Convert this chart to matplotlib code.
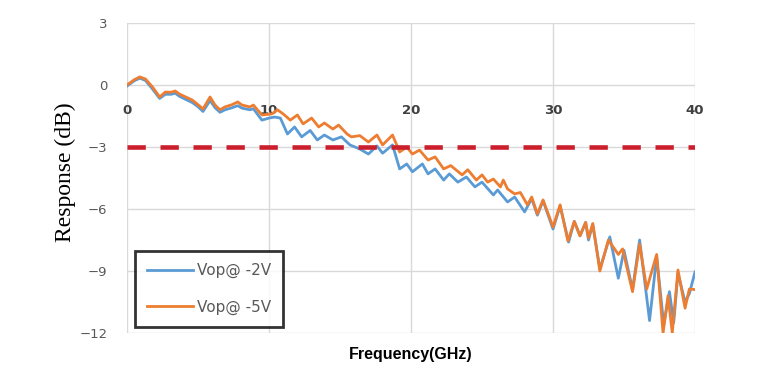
import matplotlib
matplotlib.use("Agg")
import matplotlib.pyplot as plt

freq_5v = [0.0, 0.5, 0.9, 1.3, 1.8, 2.3, 2.7, 3.1, 3.4, 3.7, 4.2, 4.6, 5.0, 5.35, 5.85, 6.2, 6.55, 6.9,
           7.4, 7.8, 8.1, 8.66, 8.9, 9.5, 10.2, 10.6, 11.0, 11.5, 12.0, 12.4, 13.0, 13.5, 13.9, 14.5,
           14.9, 15.5, 15.8, 16.4, 17.0, 17.6, 18.0, 18.7, 19.2, 19.7, 20.1, 20.6, 21.2, 21.7, 22.3,
           22.8, 23.6, 24.0, 24.6, 25.0, 25.4, 25.8, 26.3, 26.5, 26.8, 27.3, 27.7, 28.2, 28.5, 28.9,
           29.3, 30.0, 30.5, 31.05, 31.5, 31.9, 32.3, 32.5, 32.8, 33.3, 33.9, 34.6, 34.9, 35.6, 36.1,
           36.6, 37.3, 37.75, 38.1, 38.4, 38.8, 39.3, 39.6, 40.0]
resp_5v = [0.0, 0.25, 0.39, 0.29, -0.1, -0.58, -0.34, -0.35, -0.29, -0.44, -0.6, -0.73, -0.95, -1.16,
           -0.58, -0.97, -1.2, -1.06, -0.95, -0.82, -0.97, -1.06, -0.97, -1.45, -1.4, -1.2, -1.4, -1.7,
           -1.45, -1.88, -1.6, -2.03, -1.84, -2.13, -1.94, -2.37, -2.51, -2.45, -2.76, -2.42, -2.9,
           -2.42, -3.24, -3.0, -3.34, -3.15, -3.63, -3.48, -4.06, -3.9, -4.35, -4.1, -4.6, -4.35, -4.7,
           -4.55, -4.93, -4.6, -5.03, -5.27, -5.2, -5.8, -5.42, -6.24, -5.56, -6.87, -5.8, -7.55, -6.6,
           -7.3, -6.65, -7.4, -6.7, -9.0, -7.5, -8.2, -7.93, -10.0, -7.7, -9.87, -8.2, -12.0, -10.2,
           -12.0, -8.95, -10.8, -9.87, -9.9]

freq_2v = [0.0, 0.5, 0.9, 1.3, 1.8, 2.3, 2.7, 3.1, 3.4, 3.7, 4.2, 4.6, 5.0, 5.35, 5.85, 6.2, 6.55, 6.9,
           7.4, 7.8, 8.1, 8.66, 8.9, 9.5, 10.0, 10.4, 10.8, 11.3, 11.8, 12.3, 12.9, 13.4, 13.9, 14.5,
           15.1, 15.7, 16.4, 17.0, 17.6, 18.0, 18.7, 19.2, 19.7, 20.1, 20.8, 21.2, 21.7, 22.3, 22.7,
           23.3, 23.9, 24.5, 25.0, 25.8, 26.1, 26.8, 27.3, 28.0, 28.5, 28.9, 29.3, 30.0, 30.5, 31.1,
           31.5, 31.9, 32.3, 32.5, 32.8, 33.3, 34.0, 34.6, 35.0, 35.6, 36.1, 36.8, 37.3, 37.8, 38.2,
           38.5, 38.8, 39.3, 39.6, 40.0]
resp_2v = [-0.05, 0.2, 0.33, 0.22, -0.2, -0.65, -0.45, -0.45, -0.4, -0.55, -0.72, -0.85, -1.05, -1.28,
           -0.75, -1.1, -1.32, -1.2, -1.1, -1.0, -1.12, -1.2, -1.15, -1.7, -1.6, -1.55, -1.6, -2.37,
           -2.03, -2.51, -2.2, -2.66, -2.42, -2.66, -2.51, -2.9, -3.1, -3.34, -2.95, -3.3, -2.9, -4.06,
           -3.82, -4.2, -3.82, -4.3, -4.06, -4.6, -4.3, -4.7, -4.45, -4.93, -4.7, -5.32, -5.08, -5.66,
           -5.42, -6.14, -5.5, -6.3, -5.6, -6.97, -5.85, -7.6, -6.6, -7.3, -6.65, -7.5, -6.75, -8.9,
           -7.35, -9.35, -8.0, -9.9, -7.5, -11.4, -8.3, -11.6, -10.0, -11.5, -9.1, -10.5, -10.1, -9.05]

ref_freq = [0, 40]
ref_level = [-3, -3]

x_ticks = [0, 10, 20, 30, 40]
y_ticks = [3, 0, -3, -6, -9, -12]

fig = plt.figure(figsize=(7.71, 3.81), dpi=100)
ax = fig.add_axes([127 / 771, 48 / 381, 568 / 771, 310 / 381])

ax.plot(freq_2v, resp_2v, color="#5B9BD5", lw=2.0, label="Vop@ -2V", zorder=3,
        solid_joinstyle="round")
ax.plot(freq_5v, resp_5v, color="#ED7D31", lw=2.0, label="Vop@ -5V", zorder=4,
        solid_joinstyle="round")
ax.plot(ref_freq, ref_level, color="#CC1F2D", lw=3.3, linestyle=(0, (4.0, 3.2)), zorder=5)

ax.set_xlim(0, 40)
ax.set_ylim(-12, 3)
ax.set_xticks(x_ticks)
ax.set_yticks(y_ticks)
ax.grid(True, color="#D9D9D9", lw=1.0)
ax.set_axisbelow(True)
for s in ax.spines.values():
    s.set_visible(False)
ax.spines["bottom"].set_position(("data", 0))
ax.tick_params(axis="both", length=0)
ax.tick_params(axis="x", pad=14, labelsize=9.5, labelcolor="#404040")
ax.tick_params(axis="y", pad=14, labelsize=9.5, labelcolor="#595959")
for lbl in ax.get_xticklabels():
    lbl.set_fontweight("bold")

fig.text(65 / 771, 1 - 172 / 381, "Response (dB)", rotation=90, ha="center", va="center",
         family="Liberation Serif", fontsize=17, color="#000000")
fig.text(411 / 771, 1 - 355 / 381, "Frequency(GHz)", ha="center", va="center",
         family="Liberation Sans", fontweight="bold", fontsize=11.5, color="#000000")

leg = ax.legend(loc="lower left", bbox_to_anchor=(0.014, 0.02), frameon=True, fancybox=False,
                edgecolor="#000000", fontsize=11, handlelength=3.0, handletextpad=0.3,
                labelspacing=1.4, borderpad=0.78, borderaxespad=0.0, labelcolor="#595959")
leg.get_frame().set_linewidth(2.0)

fig.savefig("out.png", dpi=100)
